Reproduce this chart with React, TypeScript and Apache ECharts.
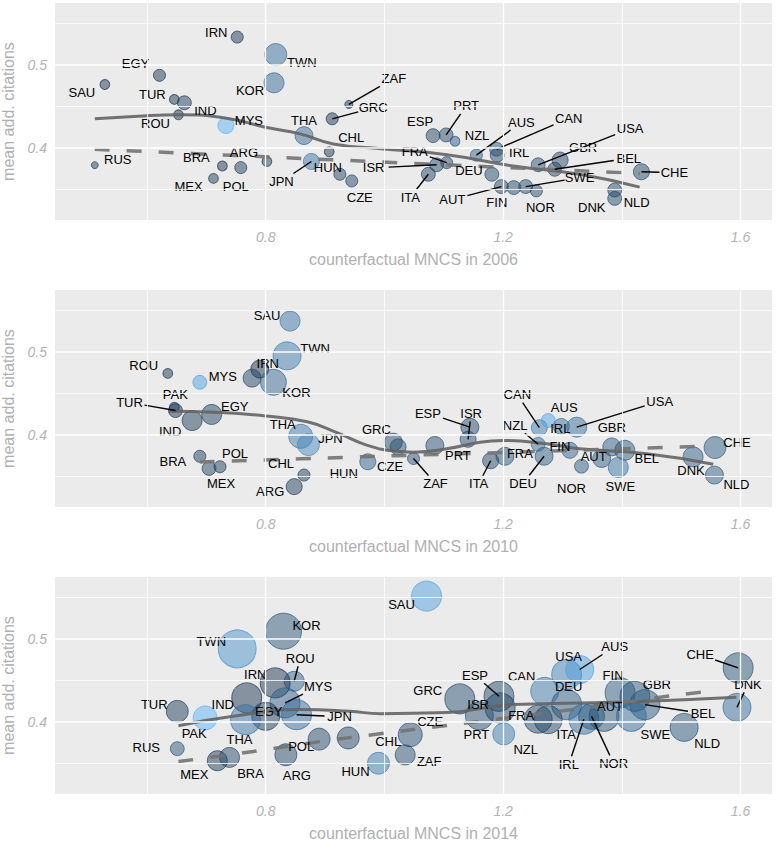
import React, { useEffect, useRef } from 'react';
import * as echarts from 'echarts';

// ---------- 2006 ----------
const names06 = ['IRN','TWN','KOR','EGY','SAU','TUR','IND','ROU','MYS','THA','GRC','ZAF','CHL','RUS','BRA','ARG','MEX','POL','JPN','HUN','CZE','ISR','ESP','PRT','NZL','AUS','CAN','IRL','DEU','FRA','ITA','AUT','FIN','SWE','NOR','USA','GBR','BEL','NLD','DNK','CHE'];
const x06 = [0.752,0.817,0.814,0.621,0.529,0.646,0.663,0.653,0.733,0.8645,0.912,0.940,0.907,0.512,0.727,0.802,0.712,0.758,0.877,0.925,0.945,1.088,1.082,1.104,1.119,1.155,1.189,1.190,1.181,1.105,1.074,1.197,1.218,1.238,1.256,1.259,1.296,1.287,1.388,1.388,1.433];
const y06 = [0.533,0.512,0.478,0.487,0.476,0.458,0.454,0.4395,0.4266,0.4145,0.4347,0.452,0.395,0.379,0.378,0.3834,0.363,0.376,0.3834,0.368,0.360,0.3794,0.4145,0.4153,0.4077,0.391,0.398,0.391,0.368,0.382,0.368,0.3532,0.352,0.3532,0.348,0.3794,0.385,0.374,0.349,0.339,0.371];
const w06 = [9,30,25,9,6,6,12,6,16,20,9,4,6,3,6,6,6,9,16,9,9,12,12,12,6,9,12,12,12,9,12,12,12,12,9,12,16,12,12,12,16];
const s06 = [0.05,0.5,0.45,0.05,0.05,0.05,0.1,0.05,1.0,0.45,0.05,0.05,0.05,0.1,0.05,0.1,0.1,0.1,0.55,0.15,0.15,0.2,0.15,0.2,0.35,0.4,0.3,0.2,0.2,0.2,0.15,0.2,0.2,0.2,0.2,0.25,0.2,0.2,0.2,0.2,0.2];
const loessX06 = [0.512,0.60,0.656,0.734,0.80,0.858,0.914,0.99,1.105,1.217,1.329,1.43];
const loessY06 = [0.4347,0.4385,0.4395,0.4355,0.4245,0.4166,0.4045,0.399,0.3915,0.378,0.368,0.3525];
const linX06 = [0.512,0.80,1.43];
const linY06 = [0.398,0.389,0.369];

// ---------- 2010 ----------
const names10 = ['SAU','TWN','IRN','RUS','KOR','MYS','ROU','PAK','TUR','IND','EGY','THA','JPN','GRC','CZE','ZAF','BRA','POL','MEX','CHL','ARG','HUN','PRT','ESP','ISR','ITA','FRA','DEU','CAN','AUS','IRL','USA','NZL','FIN','AUT','NOR','GBR','BEL','SWE','DNK','CHE','NLD'];
const x10 = [0.841,0.836,0.790,0.777,0.813,0.689,0.635,0.646,0.648,0.676,0.709,0.859,0.872,1.015,1.023,1.049,0.689,0.723,0.7045,0.8645,0.848,0.972,1.085,1.144,1.141,1.179,1.203,1.269,1.261,1.276,1.298,1.324,1.259,1.3125,1.366,1.332,1.383,1.405,1.394,1.520,1.557,1.556];
const y10 = [0.5366,0.4948,0.4789,0.468,0.463,0.463,0.4737,0.433,0.429,0.417,0.4243,0.398,0.388,0.391,0.3853,0.3713,0.374,0.3614,0.3594,0.3514,0.3375,0.3674,0.387,0.409,0.3944,0.3686,0.374,0.374,0.4084,0.417,0.4099,0.409,0.3884,0.3812,0.3713,0.3621,0.3853,0.3812,0.3606,0.3733,0.3845,0.3514];
const w10 = [25,49,20,20,42,12,6,6,12,25,25,36,30,20,16,9,9,9,12,9,16,16,20,20,16,16,20,20,16,12,16,25,12,16,20,12,20,25,25,25,30,20];
const s10 = [0.55,0.6,0.0,0.15,0.45,0.85,0.05,0.15,0.05,0.1,0.15,0.6,0.7,0.2,0.25,0.25,0.1,0.1,0.15,0.1,0.1,0.4,0.25,0.2,0.25,0.2,0.3,0.35,0.6,0.9,0.5,0.5,0.5,0.4,0.35,0.35,0.35,0.35,0.55,0.35,0.35,0.35];
const loessX10 = [0.636,0.712,0.80,0.87,0.92,0.970,1.021,1.049,1.105,1.161,1.20,1.273,1.329,1.442,1.554];
const loessY10 = [0.4283,0.427,0.4225,0.4155,0.4025,0.3875,0.3800,0.379,0.383,0.391,0.393,0.389,0.383,0.377,0.3645];
const linX10 = [0.689,0.989,1.537];
const linY10 = [0.367,0.374,0.386];

// ---------- 2014 ----------
const names14 = ['KOR','TWN','ROU','IRN','IND','MYS','EGY','JPN','THA','TUR','PAK','RUS','MEX','BRA','ARG','POL','CHL','HUN','CZE','ZAF','SAU','GRC','ESP','ISR','PRT','NZL','CAN','USA','AUS','DEU','FRA','ITA','IRL','NOR','AUT','FIN','GBR','BEL','SWE','NLD','CHE','DNK'];
const x14 = [0.830,0.752,0.848,0.816,0.768,0.8325,0.800,0.852,0.766,0.651,0.698,0.651,0.7185,0.739,0.834,0.890,0.939,0.990,1.0435,1.035,1.071,1.127,1.193,1.195,1.16,1.201,1.270,1.307,1.329,1.307,1.259,1.276,1.336,1.349,1.370,1.397,1.422,1.439,1.416,1.505,1.596,1.594];
const y14 = [0.5088,0.4876,0.4486,0.4466,0.4286,0.4225,0.4064,0.4084,0.4024,0.4124,0.4045,0.3675,0.353,0.357,0.3602,0.379,0.3804,0.350,0.3843,0.360,0.551,0.4273,0.4305,0.4165,0.407,0.3852,0.4365,0.4566,0.4627,0.4205,0.403,0.4024,0.403,0.4064,0.4064,0.4346,0.4305,0.4205,0.4064,0.3931,0.4647,0.4172];
const w14 = [81,90,25,56,56,56,49,56,56,30,36,12,25,25,30,30,30,30,36,25,56,56,56,56,49,30,49,56,49,56,49,49,56,42,56,56,56,56,56,49,56,49];
const s14 = [0.3,0.75,0.4,0.05,0.05,0.4,0.1,0.5,0.55,0.1,1.0,0.3,0.1,0.2,0.2,0.2,0.2,0.6,0.25,0.25,0.85,0.25,0.2,0.2,0.25,0.6,0.6,0.65,0.85,0.35,0.2,0.2,0.5,0.35,0.3,0.35,0.35,0.3,0.5,0.3,0.3,0.5];
const loessX14 = [0.653,0.745,0.858,0.942,0.993,1.105,1.217,1.329,1.442,1.593];
const loessY14 = [0.395,0.4064,0.4145,0.4124,0.4096,0.411,0.4205,0.4225,0.4245,0.4293];
const linX14 = [0.653,0.779,0.891,1.003,1.105,1.273,1.498,1.562];
const linY14 = [0.352,0.3642,0.376,0.3864,0.3955,0.4105,0.4325,0.4377];

const xTicks = [0.8, 1.2, 1.6];
const yTicks = [0.4, 0.5];
const xMinor = [0.6, 1.0, 1.4];
const yMinor = [0.35, 0.45, 0.55];

// label placement (pixel offsets from the point, segment flag)
const lab06: Record<string, number[]> = {
  IRN:[-21,-5,0], TWN:[26,8,0], KOR:[-24,8,0], EGY:[-24,-12,0], SAU:[-23,8,0], TUR:[-22,-5,0], IND:[21,8,0], ROU:[-23,9,0], MYS:[23,-5,0], THA:[0,-15,0], GRC:[41,-11,1], ZAF:[45,-26,1], CHL:[22,-14,0], RUS:[23,-6,0], BRA:[-26,-8,0], ARG:[-23,-9,0], MEX:[-25,8,0], POL:[-5,19,0], JPN:[-30,20,1], HUN:[-12,-7,0], CZE:[8,17,0], ISR:[-63,3,1], ESP:[-13,-14,0], PRT:[20,-29,1], NZL:[22,-6,0], AUS:[45,-33,1], CAN:[72,-31,1], IRL:[22,-3,0], DEU:[-23,-4,0], FRA:[-32,-11,1], ITA:[-18,23,1], AUT:[-49,13,1], FIN:[-17,15,0], NOR:[4,17,0], SWE:[54,-9,1], USA:[92,-36,1], GBR:[23,-13,0], BEL:[74,-11,1], DNK:[-23,9,0], NLD:[22,12,0], CHE:[33,1,1]
};
const lab10: Record<string, number[]> = {
  SAU:[-23,-6,0], TWN:[28,-7,0], IRN:[8,-6,0], KOR:[23,10,0], ROU:[-24,-8,0], MYS:[23,-6,0], PAK:[1,-13,0], TUR:[-46,-8,1], EGY:[23,-8,0], IND:[-22,11,0], THA:[-18,-12,0], JPN:[22,-6,0], GRC:[-17,-13,0], BRA:[-27,5,0], POL:[15,-13,0], MEX:[12,15,0], CHL:[-23,-12,0], ARG:[-24,5,0], HUN:[-24,12,0], CZE:[-8,20,0], ZAF:[22,25,1], ESP:[-42,-14,1], ISR:[3,-26,1], PRT:[23,10,0], ITA:[-12,23,1], FRA:[15,-3,0], DEU:[-21,27,1], CAN:[-22,-33,1], AUS:[16,-13,0], NZL:[-23,-19,1], IRL:[-1,2,0], FIN:[-10,-4,0], USA:[83,-26,1], GBR:[0,-19,0], AUT:[-8,-2,0], NOR:[-10,22,0], BEL:[22,8,0], SWE:[2,19,0], DNK:[-2,14,0], CHE:[22,-5,0], NLD:[22,9,0]
};
const lab14: Record<string, number[]> = {
  KOR:[23,-6,0], TWN:[-26,-7,0], ROU:[6,-23,1], IRN:[-20,-8,0], MYS:[33,-16,1], IND:[-24,7,0], EGY:[3,-5,0], JPN:[43,2,1], TUR:[-23,-7,0], PAK:[-11,16,0], THA:[-6,20,0], RUS:[-31,-1,0], MEX:[-23,14,0], BRA:[21,16,0], ARG:[11,21,0], POL:[-18,7,0], CHL:[40,4,0], HUN:[-23,8,0], CZE:[20,-13,0], ZAF:[24,7,0], SAU:[-25,8,0], GRC:[-32,-8,0], ESP:[-24,-21,1], ISR:[-22,-3,0], PRT:[-3,19,0], NZL:[22,16,0], CAN:[-23,-15,0], USA:[2,-18,0], AUS:[35,-23,1], DEU:[2,-18,0], FRA:[-17,-4,0], ITA:[18,15,0], IRL:[-15,45,1], NOR:[22,47,1], AUT:[6,-10,0], FIN:[-7,-17,0], GBR:[22,-12,0], BEL:[58,9,1], SWE:[24,18,0], NLD:[23,16,0], CHE:[-38,-13,1], DNK:[11,-23,1]
};

const FONT = '"Liberation Sans", Arial, sans-serif';
const LOW = [0x13, 0x2b, 0x43];
const MID = [0x33, 0x6a, 0x98];
const HIGH = [0x56, 0xb1, 0xf7];
function shadeColor(t: number, a: number) {
  const [from, to, u] = t < 0.5 ? [LOW, MID, t / 0.5] : [MID, HIGH, (t - 0.5) / 0.5];
  const c = from.map((v, i) => Math.round(v + (to[i] - v) * u));
  return `rgba(${c[0]},${c[1]},${c[2]},${a})`;
}

const panels = [
  { year: '2006', names: names06, xs: x06, ys: y06, ws: w06, ss: s06, lx: loessX06, ly: loessY06, mx: linX06, my: linY06, lab: lab06, top: 3 },
  { year: '2010', names: names10, xs: x10, ys: y10, ws: w10, ss: s10, lx: loessX10, ly: loessY10, mx: linX10, my: linY10, lab: lab10, top: 290 },
  { year: '2014', names: names14, xs: x14, ys: y14, ws: w14, ss: s14, lx: loessX14, ly: loessY14, mx: linX14, my: linY14, lab: lab14, top: 577 },
];

function buildOption() {
  const grid = panels.map((p) => ({
    left: 55, top: p.top, width: 717, height: 217, show: true, backgroundColor: '#ebebeb', borderWidth: 0,
    containLabel: false, outerBoundsMode: 'none',
  }));
  const axisText = { color: '#b3b3b3', fontStyle: 'italic', fontSize: 14, fontFamily: FONT };
  const nameText = { color: '#b0b0b0', fontSize: 16, fontFamily: FONT };
  const xAxis = panels.map((p, i) => ({
    type: 'value', gridIndex: i, min: 0.445, max: 1.653,
    name: 'counterfactual MNCS in ' + p.year, nameLocation: 'middle', nameGap: 31, nameTextStyle: nameText,
    axisLine: { show: false }, axisTick: { show: false }, splitLine: { show: false },
    axisLabel: { ...axisText, margin: 10, customValues: xTicks },
  }));
  const yAxis = panels.map((p, i) => ({
    type: 'value', gridIndex: i, min: 0.313, max: 0.574,
    name: 'mean add. citations', nameLocation: 'middle', nameGap: 33, nameTextStyle: nameText,
    axisLine: { show: false }, axisTick: { show: false }, splitLine: { show: false },
    axisLabel: { ...axisText, margin: 8, customValues: yTicks },
  }));
  const series: any[] = [];
  panels.forEach((p, i) => {
    const gl: any[] = [];
    xMinor.forEach((v) => gl.push({ xAxis: v, lineStyle: { width: 0.8 } }));
    xTicks.forEach((v) => gl.push({ xAxis: v, lineStyle: { width: 1.3 } }));
    yMinor.forEach((v) => gl.push({ yAxis: v, lineStyle: { width: 0.8 } }));
    yTicks.forEach((v) => gl.push({ yAxis: v, lineStyle: { width: 1.6 } }));
    series.push({
      type: 'line', xAxisIndex: i, yAxisIndex: i, data: [], z: 1, silent: true,
      markLine: {
        silent: true, symbol: ['none', 'none'], animation: false, label: { show: false },
        emphasis: { disabled: true },
        lineStyle: { color: '#ffffff', type: 'solid' }, data: gl,
      },
    });
    series.push({
      type: 'scatter', xAxisIndex: i, yAxisIndex: i, z: 2, silent: true,
      symbolSize: (val: number[]) => 4 * Math.sqrt(val[2]),
      data: p.xs.map((x, j) => ({
        value: [x, p.ys[j], p.ws[j]],
        itemStyle: { color: shadeColor(p.ss[j], 0.6), borderColor: shadeColor(p.ss[j], 0.85), borderWidth: 1 },
      })),
    });
    series.push({
      type: 'line', xAxisIndex: i, yAxisIndex: i, z: 3, silent: true, showSymbol: false, smooth: 0.5,
      data: p.lx.map((x, j) => [x, p.ly[j]]),
      lineStyle: { color: 'rgba(100,100,100,0.9)', width: 3 },
    });
    series.push({
      type: 'line', xAxisIndex: i, yAxisIndex: i, z: 3, silent: true, showSymbol: false, smooth: 0.3,
      data: p.mx.map((x, j) => [x, p.my[j]]),
      lineStyle: { color: 'rgba(115,115,115,0.9)', width: 3.5, type: [15, 17] },
    });
    series.push({
      type: 'custom', xAxisIndex: i, yAxisIndex: i, z: 4, silent: true, clip: false,
      data: p.xs.map((x, j) => [x, p.ys[j]]),
      encode: { x: 0, y: 1 },
      renderItem: (params: any, api: any) => {
        const name = p.names[params.dataIndex];
        const l = p.lab[name];
        if (!l) return { type: 'group', children: [] };
        const pt = api.coord([api.value(0), api.value(1)]);
        const lx = pt[0] + l[0];
        const ly = pt[1] + l[1];
        const children: any[] = [];
        if (l[2]) {
          const vx = pt[0] - lx, vy = pt[1] - ly;
          const hw = 15, hh = 8;
          const t = Math.min(vx !== 0 ? hw / Math.abs(vx) : Infinity, vy !== 0 ? hh / Math.abs(vy) : Infinity);
          if (t < 1) {
            children.push({
              type: 'line',
              shape: { x1: lx + vx * t, y1: ly + vy * t, x2: pt[0], y2: pt[1] },
              style: { stroke: '#000', lineWidth: 1.4 },
            });
          }
        }
        children.push({
          type: 'text', x: lx, y: ly,
          style: { text: name, fill: '#000', font: `13px ${FONT}`, align: 'center', verticalAlign: 'middle' },
        });
        return { type: 'group', children };
      },
    });
  });
  return { animation: false, grid, xAxis, yAxis, series };
}

export default function App() {
  const ref = useRef<HTMLDivElement>(null);
  useEffect(() => {
    const chart = echarts.init(ref.current!, null, { renderer: 'svg' });
    chart.setOption(buildOption() as any);
    return () => chart.dispose();
  }, []);
  return (
    <div
      ref={ref}
      style={{ position: 'fixed', left: 0, top: 0, width: 778, height: 843, background: '#ffffff' }}
    />
  );
}
